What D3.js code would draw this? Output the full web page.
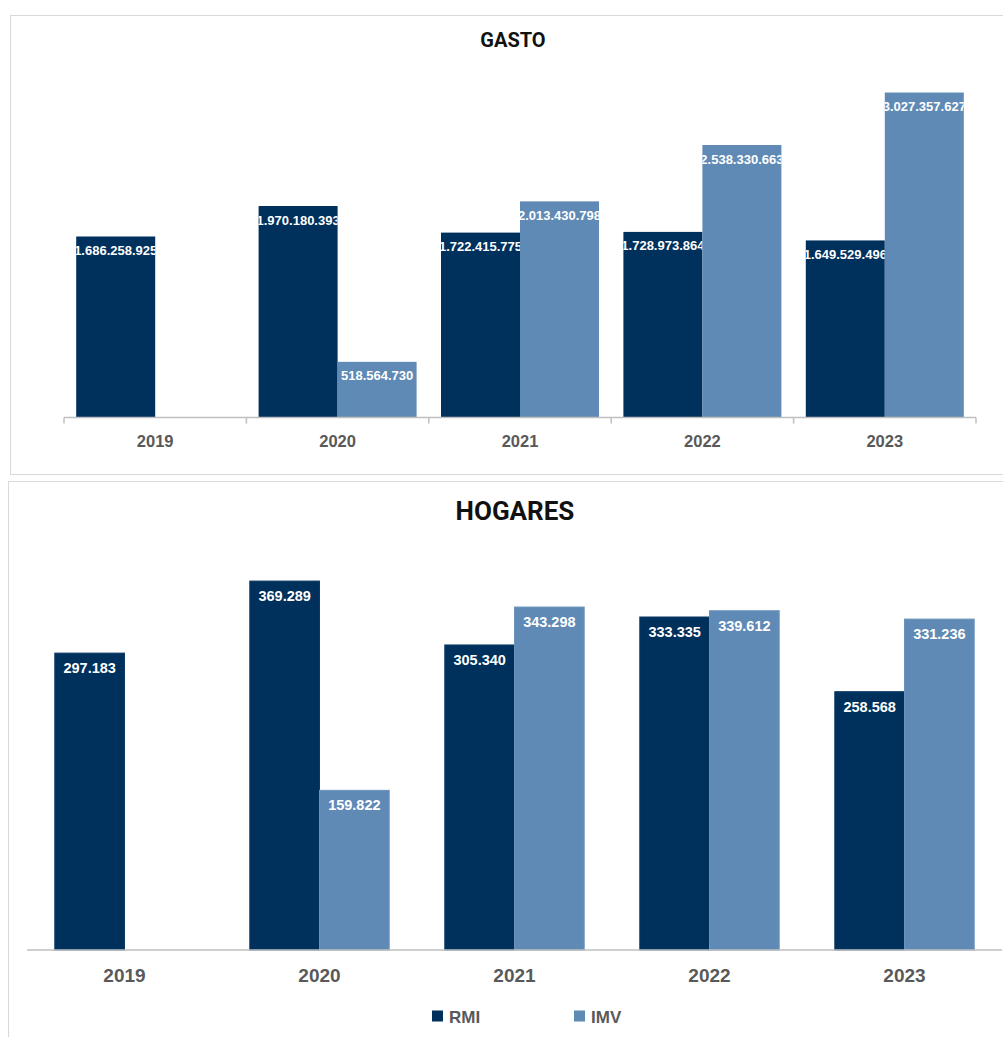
<!DOCTYPE html>
<html>
<head>
<meta charset="utf-8">
<script src="https://cdn.jsdelivr.net/npm/d3@7"></script>
<style>
  html, body { margin: 0; padding: 0; background: #fff; }
  svg { display: block; }
</style>
</head>
<body>
<svg id="chart" width="1003" height="1037"></svg>
<script>
// Years shown on both panels
const years = ["2019", "2020", "2021", "2022", "2023"];
const series = ["RMI", "IMV"];

// Spending (GASTO), euros
const gastoRMI = [1686258925, 1970180393, 1722415775, 1728973864, 1649529496];
const gastoIMV = [null, 518564730, 2013430798, 2538330663, 3027357627];

// Households (HOGARES)
const hogaresRMI = [297183, 369289, 305340, 333335, 258568];
const hogaresIMV = [null, 159822, 343298, 339612, 331236];

const colors = { RMI: "#00305c", IMV: "#5f8ab5" };
const fmt = v => d3.format(",")(v).replace(/,/g, ".");

const svg = d3.select("#chart");
const defs = svg.append("defs");

// Panel frames
svg.append("rect").attr("x", 10.5).attr("y", 15.5).attr("width", 1000).attr("height", 459)
  .attr("fill", "#fff").attr("stroke", "#d9d9d9").attr("stroke-width", 1);
svg.append("rect").attr("x", 8.5).attr("y", 481.5).attr("width", 1000).attr("height", 600)
  .attr("fill", "#fff").attr("stroke", "#d9d9d9").attr("stroke-width", 1);

let clipId = 0;

function drawPanel(cfg) {
  const g = svg.append("g");
  const rows = years.map((y, i) => ({ year: y, RMI: cfg.rmi[i], IMV: cfg.imv[i] }));

  const x0 = d3.scaleBand().domain(years).range([cfg.left, cfg.right]);
  const step = x0.bandwidth();
  const x1 = d3.scaleBand().domain(series).range([cfg.gap, step - cfg.gap]);
  const y = d3.scaleLinear().domain([0, cfg.max]).range([cfg.base, cfg.top]);

  // Title
  g.append("text").attr("x", cfg.titleX).attr("y", cfg.titleY)
    .attr("text-anchor", "middle")
    .attr("font-family", "Roboto, sans-serif").attr("font-weight", 700)
    .attr("font-size", cfg.titleSize).attr("fill", "#111")
    .text(cfg.title);

  const groups = g.selectAll("g.year").data(rows).join("g")
    .attr("class", "year")
    .attr("transform", d => `translate(${x0(d.year)},0)`);

  const items = groups.selectAll("g.bar")
    .data(d => series.filter(s => d[s] != null).map(s => ({ key: s, value: d[s] })))
    .join("g").attr("class", "bar");

  items.append("rect")
    .attr("x", d => x1(d.key))
    .attr("y", d => y(d.value))
    .attr("width", x1.bandwidth())
    .attr("height", d => y(0) - y(d.value))
    .attr("fill", d => colors[d.key])
    .attr("stroke", cfg.barStroke ? (d => d.key === "RMI" ? "#0b3a66" : "#6b94bc") : "none")
    .attr("stroke-width", cfg.barStroke ? 1 : 0);

  // Value labels inside the end of each bar, clipped to the bar
  items.each(function (d) {
    const id = "clip" + (clipId++);
    defs.append("clipPath").attr("id", id)
      .append("rect")
      .attr("x", x1(d.key))
      .attr("y", y(d.value))
      .attr("width", x1.bandwidth())
      .attr("height", y(0) - y(d.value));
    d3.select(this).append("g")
      .attr("clip-path", `url(#${id})`)
      .append("text")
      .attr("x", x1(d.key) + x1.bandwidth() / 2)
      .attr("y", y(d.value) + cfg.labelOffset)
      .attr("text-anchor", "middle")
      .attr("font-family", "'Liberation Sans', Arial, sans-serif")
      .attr("font-weight", 700)
      .attr("font-size", cfg.labelSize)
      .attr("fill", "#fff")
      .text(fmt(d.value));
  });

  // Category axis
  const axis = g.append("g").attr("transform", `translate(0,${cfg.base})`)
    .call(d3.axisBottom(x0).tickSize(0).tickPadding(cfg.tickPad));
  axis.select(".domain").attr("stroke", "#bfbfbf").attr("stroke-width", 1.5)
    .attr("d", `M${cfg.left},0H${cfg.right}`);
  axis.selectAll(".tick text")
    .attr("font-family", "'Liberation Sans', Arial, sans-serif")
    .attr("font-weight", 700).attr("font-size", cfg.yearSize).attr("fill", "#595959");

  if (cfg.boundaryTicks) {
    const bounds = years.map(yv => x0(yv)).concat([cfg.right]);
    axis.selectAll("line.bound").data(bounds).join("line")
      .attr("class", "bound")
      .attr("x1", d => d).attr("x2", d => d)
      .attr("y1", 0).attr("y2", 6)
      .attr("stroke", "#bfbfbf").attr("stroke-width", 1.5);
  }
  return { x0, y };
}

drawPanel({
  title: "GASTO", titleX: 513, titleY: 47, titleSize: 20,
  rmi: gastoRMI, imv: gastoIMV,
  left: 64, right: 976, gap: 12.2,
  base: 417.5, top: 41.8, max: 3500000000,
  labelSize: 13, labelOffset: 18.5, yearSize: 16.5, tickPad: 18,
  boundaryTicks: true, barStroke: false
});

drawPanel({
  title: "HOGARES", titleX: 515, titleY: 520, titleSize: 26,
  rmi: hogaresRMI, imv: hogaresIMV,
  left: 27, right: 1002, gap: 27.8,
  base: 950, top: 550.4, max: 400000,
  labelSize: 14.5, labelOffset: 20, yearSize: 19, tickPad: 19,
  boundaryTicks: false, barStroke: true
});

// Legend
const legend = svg.append("g").attr("transform", "translate(0,1016)");
const legendX = { RMI: 432, IMV: 574 };
const li = legend.selectAll("g").data(series).join("g")
  .attr("transform", d => `translate(${legendX[d]},0)`);
li.append("rect").attr("x", 0).attr("y", -5.5).attr("width", 11).attr("height", 11)
  .attr("fill", d => colors[d]);
li.append("text").attr("x", 17).attr("y", 7)
  .attr("font-family", "'Liberation Sans', Arial, sans-serif")
  .attr("font-weight", 700).attr("font-size", 17).attr("fill", "#595959")
  .text(d => d);
</script>
</body>
</html>
